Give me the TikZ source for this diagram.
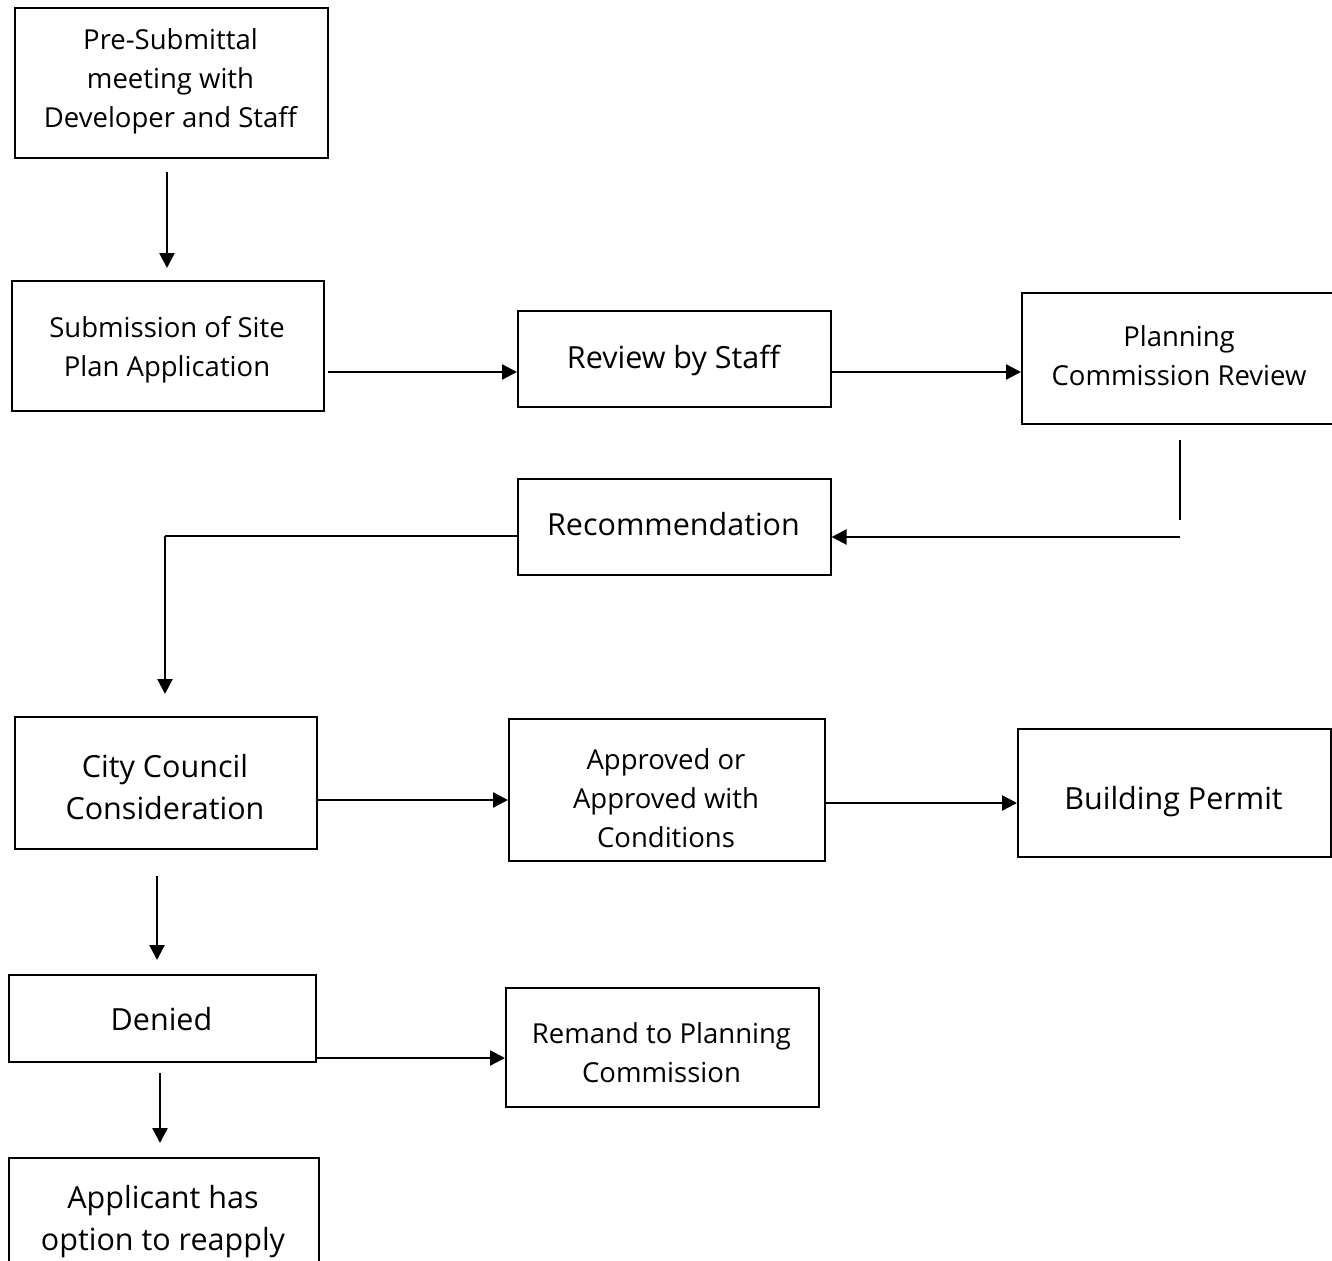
\documentclass[tikz,border=0pt]{standalone}
\usepackage{fontspec}
\setmainfont{Open Sans}
\usetikzlibrary{arrows.meta}
\tikzset{
  box/.style={draw, line width=1.6pt, inner sep=0pt, anchor=north west},
  txt/.style={align=center, inner sep=0pt, anchor=center},
  small/.style={font=\fontsize{27.5}{39}\selectfont},
  big/.style={font=\fontsize{30.5}{42}\selectfont},
  arr/.style={line width=2.4pt, -{Triangle[length=15pt,width=15pt]}},
  ln/.style={line width=2.2pt}
}
\begin{document}
\begin{tikzpicture}[x=1pt,y=-1pt]
\useasboundingbox (0,0) rectangle (1332,1260);
% boxes
\node[box,minimum width=313pt,minimum height=150pt] (pre) at (14,7) {};
\node[box,minimum width=312pt,minimum height=130pt] (sub) at (11,280) {};
\node[box,minimum width=313pt,minimum height=96pt] (rev) at (517,310) {};
\node[box,minimum width=316pt,minimum height=131pt] (pc) at (1021,292) {};
\node[box,minimum width=313pt,minimum height=96pt] (rec) at (517,478) {};
\node[box,minimum width=302pt,minimum height=132pt] (cc) at (14,716) {};
\node[box,minimum width=316pt,minimum height=142pt] (app) at (508,718) {};
\node[box,minimum width=313pt,minimum height=128pt] (bp) at (1017,728) {};
\node[box,minimum width=307pt,minimum height=87pt] (den) at (8,974) {};
\node[box,minimum width=313pt,minimum height=119pt] (rem) at (505,987) {};
\node[box,minimum width=310pt,minimum height=130pt] (apl) at (8,1157) {};
% texts
\node[txt,small] (pret) at (170.5,81) {Pre-Submittal\\meeting with\\Developer and Staff};
\node[txt,small] (subt) at (167,350) {Submission of Site\\Plan Application};
\node[txt,big] (revt) at (673.5,360) {Review by Staff};
\node[txt,small] (pct) at (1179,355.5) {Planning\\Commission Review};
\node[txt,big] (rect) at (673.5,524) {Recommendation};
\node[txt,big] (cct) at (165,787) {City Council\\Consideration};
\node[txt,small] (appt) at (666,798) {Approved or\\Approved with\\Conditions};
\node[txt,big] (bpt) at (1173.5,802) {Building Permit};
\node[txt,big] (dent) at (161.5,1019.5) {Denied};
\node[txt,small] (remt) at (661.5,1052.5) {Remand to Planning\\Commission};
\node[txt,big] (aplt) at (163,1222) {Applicant has\\option to reapply};
% coordinates
\coordinate (c1) at (167,172);
\coordinate (c2) at (167,268);
\coordinate (c3) at (1180,440);
\coordinate (c4) at (1180,520);
\coordinate (c5) at (1180,537);
\coordinate (c6) at (165,536);
\coordinate (c7) at (165,694);
\coordinate (c8) at (157,876);
\coordinate (c9) at (157,960);
\coordinate (c10) at (160,1073);
\coordinate (c11) at (160,1143);
% connectors
\draw[arr] (c1) -- (c2);
\draw[arr] (328,372) -- (rev.west |- 0,372);
\draw[arr] (rev.east |- 0,372) -- (pc.west |- 0,372);
\draw[ln] (c3) -- (c4);
\draw[arr] (c5) -- (rec.east |- c5);
\draw[ln] (rec.west |- c6) -- (c6);
\draw[arr] (c6) -- (c7);
\draw[arr] (cc.east |- 0,800) -- (app.west |- 0,800);
\draw[arr] (app.east |- 0,803) -- (bp.west |- 0,803);
\draw[arr] (c8) -- (c9);
\draw[arr] (den.east |- 0,1058) -- (rem.west |- 0,1058);
\draw[arr] (c10) -- (c11);
\end{tikzpicture}
\end{document}
